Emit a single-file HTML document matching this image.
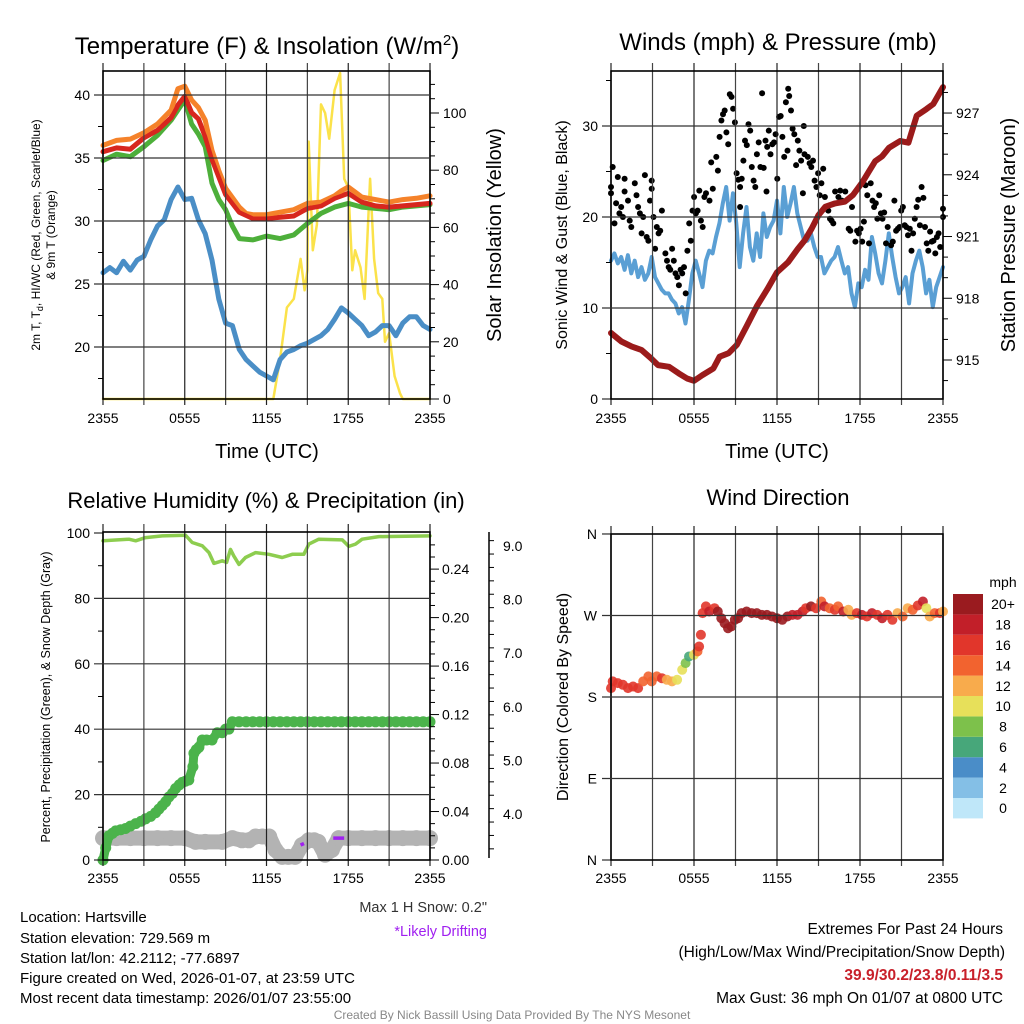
<!DOCTYPE html>
<html><head><meta charset="utf-8"><title>Mesonet Station Chart</title>
<style>
html,body{margin:0;padding:0;background:#fff;}
svg{display:block;font-family:"Liberation Sans",Arial,sans-serif;}
</style></head>
<body>
<svg id="chart" width="1024" height="1024" viewBox="0 0 1024 1024" xmlns="http://www.w3.org/2000/svg">
<rect x="0" y="0" width="1024" height="1024" fill="#fff"/>
<g id="layer-data"></g>
<g id="layer-axes"></g>
<!-- titles -->
<text x="267" y="54" font-size="24" text-anchor="middle">Temperature (F) &amp; Insolation (W/m<tspan dy="-9" font-size="15">2</tspan><tspan dy="9">)</tspan></text>
<text x="778" y="50" font-size="24" text-anchor="middle">Winds (mph) &amp; Pressure (mb)</text>
<text x="266" y="508" font-size="22" text-anchor="middle">Relative Humidity (%) &amp; Precipitation (in)</text>
<text x="778" y="505" font-size="22" text-anchor="middle">Wind Direction</text>
<text x="267" y="458" font-size="20" text-anchor="middle">Time (UTC)</text>
<text x="777" y="458" font-size="20" text-anchor="middle">Time (UTC)</text>
<text transform="translate(40,235) rotate(-90)" font-size="12" text-anchor="middle">2m T, T<tspan dy="3" font-size="9">d</tspan><tspan dy="-3">, HI/WC (Red, Green, Scarlet/Blue)</tspan></text>
<text transform="translate(55,235) rotate(-90)" font-size="12" text-anchor="middle">&amp; 9m T (Orange)</text>
<text transform="translate(501,235) rotate(-90)" font-size="20" text-anchor="middle">Solar Insolation (Yellow)</text>
<text transform="translate(567,235) rotate(-90)" font-size="16" text-anchor="middle">Sonic Wind &amp; Gust (Blue, Black)</text>
<text transform="translate(1015,235) rotate(-90)" font-size="20" text-anchor="middle">Station Pressure (Maroon)</text>
<text transform="translate(50,697) rotate(-90)" font-size="12.5" text-anchor="middle">Percent, Precipitation (Green), &amp; Snow Depth (Gray)</text>
<text transform="translate(568,697) rotate(-90)" font-size="16" text-anchor="middle">Direction (Colored By Speed)</text>
<!-- notes -->
<text x="487" y="912" font-size="14.5" fill="#333" text-anchor="end">Max 1 H Snow: 0.2"</text>
<text x="487" y="936" font-size="14.5" fill="#a020f0" text-anchor="end">*Likely Drifting</text>
<g font-size="15">
<text x="20" y="922">Location: Hartsville</text>
<text x="20" y="943">Station elevation: 729.569 m</text>
<text x="20" y="963">Station lat/lon: 42.2112; -77.6897</text>
<text x="20" y="983">Figure created on Wed, 2026-01-07, at 23:59 UTC</text>
<text x="20" y="1003">Most recent data timestamp: 2026/01/07 23:55:00</text>
</g>
<g font-size="15.5" text-anchor="end">
<text x="1003" y="934">Extremes For Past 24 Hours</text>
<text x="1005" y="957">(High/Low/Max Wind/Precipitation/Snow Depth)</text>
<text x="1003" y="980" fill="#c8202a" font-weight="bold">39.9/30.2/23.8/0.11/3.5</text>
<text x="1003" y="1003">Max Gust: 36 mph On 01/07 at 0800 UTC</text>
</g>
<text x="512" y="1019" font-size="12" fill="#888" text-anchor="middle">Created By Nick Bassill Using Data Provided By The NYS Mesonet</text>
</svg>
<script>
// ---------- DATA ----------
const xTickLabels=["2355","0555","1155","1755","2355"];
// Temperature panel
const tOrange=[0,1,2,3,4,5,5.5,6,6.5,7,7.5,8,8.5,9,10,10.5,11,12,13,14,15,16,17,17.5,18,18.5,19,20,21,22,23,24];
const vOrange=[36.0,36.4,36.5,37.0,37.7,38.8,40.5,40.7,39.6,39.0,38.0,35.6,34.0,32.6,31.1,30.6,30.5,30.5,30.7,30.9,31.4,31.5,32.0,32.4,32.7,32.3,31.9,31.7,31.5,31.7,31.8,32.0];
const tRed=[0,1,2,3,4,5,5.5,6,6.5,7,7.5,8,9,10,11,12,13,14,15,16,17,18,19,20,21,22,23,24];
const vRed=[35.5,35.8,35.7,36.6,37.2,38.2,39.2,39.9,38.6,38.1,36.7,34.9,32.1,30.7,30.2,30.2,30.3,30.4,31.0,31.2,31.8,32.2,31.5,31.2,31.1,31.2,31.3,31.4];
const tGreen=[0,1,2,3,4,5,5.5,6,6.5,7,7.5,8,8.5,9,9.5,10,11,12,13,14,15,16,17,18,19,20,21,22,23,24];
const vGreen=[34.8,35.3,35.1,35.9,36.8,38.0,38.8,39.6,37.7,36.9,35.9,33.0,31.7,30.9,29.6,28.6,28.5,28.8,28.6,28.9,29.8,30.6,31.1,31.4,31.1,31.0,30.9,31.1,31.2,31.3];
const vBlue=[25.9,26.3,25.9,26.8,26.1,26.9,27.2,28.5,29.6,30.1,31.7,32.7,31.7,31.8,30.1,29.0,26.9,23.8,21.9,21.7,19.8,19.0,18.5,18.0,17.7,17.4,19.0,19.6,19.8,20.1,20.3,20.6,20.9,21.4,22.2,23.1,22.7,22.2,21.7,20.9,21.2,21.7,21.7,20.9,21.9,22.4,22.4,21.7,21.4];
const tSolar=[0,12,12.5,13,13.5,14,14.5,14.8,15,15.1,15.4,15.7,16,16.3,16.6,17,17.4,17.7,18,18.3,18.5,18.9,19.2,19.6,19.9,20.2,20.5,20.7,21,21.4,21.8,22,24];
const vSolar=[0,0,0,14,32,35,49,38,45,90,52,61,103,100,91,108,114,77,74,45,52,46,35,77,49,37,35,20,23,8,2,0,0];
const tempTicks=[20,25,30,35,40];
const solarTicks=[0,20,40,60,80,100];
// Wind panel
const vWind=[15.2,16.0,14.9,15.6,14.2,15.8,13.8,15.2,13.4,14.5,13.1,13.8,15.6,13.4,12.7,12.0,11.6,11.6,10.9,10.5,9.4,10.1,8.3,10.9,13.8,15.2,13.8,12.3,15.2,16.3,16.0,17.8,19.3,21.5,23.3,19.6,22.6,19.3,14.5,18.2,21.1,16.7,15.2,18.2,15.6,20.4,17.8,18.9,19.6,21.8,18.2,23.3,20.0,21.5,23.3,20.4,18.9,17.4,17.4,18.2,16.7,15.6,15.6,13.8,14.5,15.2,15.6,16.7,15.2,13.8,14.5,11.6,10.1,12.7,12.3,14.2,13.1,17.8,16.0,13.8,12.7,15.2,18.2,15.6,13.4,11.6,12.3,13.4,10.5,13.8,15.2,16.3,14.5,11.6,13.1,10.1,12.3,13.4,14.5];
const tGust=[0,0.12,0,0.37,0.49,0.25,0.61,0.74,0.86,0.98,0.98,1.23,1.35,1.47,1.72,1.84,1.96,2.09,2.21,2.33,2.45,2.58,2.70,2.82,2.94,2.94,3.07,3.19,3.31,3.44,3.56,3.68,3.93,4.05,4.17,4.29,4.42,4.54,4.66,4.79,4.91,5.03,5.15,5.28,5.40,5.52,5.65,5.77,5.89,6.01,6.14,6.26,6.38,6.50,6.63,6.75,6.87,7.12,7.24,7.36,7.61,7.73,7.85,7.98,8.10,8.22,8.34,8.47,8.59,8.71,8.83,8.96,9.08,9.20,9.33,9.33,9.45,9.57,9.69,9.82,9.94,10.06,10.18,10.31,10.43,10.55,10.68,10.80,10.92,11.04,11.17,11.24,11.29,11.41,11.53,11.66,11.78,11.90,12.02,12.15,12.27,12.39,12.52,12.64,12.76,12.81,12.88,13.01,13.13,13.25,13.38,13.50,13.62,13.74,13.87,13.94,13.99,14.23,14.36,14.48,14.60,14.72,14.85,14.97,15.09,15.21,15.34,15.46,15.71,15.83,15.95,16.07,16.20,16.44,16.57,16.69,16.94,17.18,17.30,17.42,17.67,17.79,17.91,18.04,18.16,18.28,18.40,18.53,18.65,18.77,18.90,19.02,19.14,19.26,19.39,19.51,19.63,19.75,19.88,20.00,20.25,20.37,20.49,20.61,20.74,20.86,20.98,21.10,21.23,21.35,21.47,21.60,21.72,21.84,21.96,22.09,22.21,22.33,22.45,22.58,22.70,22.82,22.94,23.07,23.19,23.31,23.44,23.56,23.68,23.80,24.00,24.00];
const vGust=[23.3,25.5,22.6,21.5,24.4,19.3,20.4,21.1,20.0,24.2,22.8,21.8,19.6,18.9,23.7,22.4,21.1,20.4,18.2,20.0,24.6,17.8,17.4,21.8,23.1,24.0,20.0,16.5,18.9,18.2,18.5,20.7,16.0,15.2,14.5,14.2,16.5,15.2,13.8,13.4,12.5,14.2,13.8,14.5,11.6,16.3,19.3,17.4,20.7,22.2,20.4,20.7,22.9,19.6,18.9,22.2,22.6,21.8,26.0,23.1,26.6,25.1,28.8,30.6,31.3,31.7,29.3,28.0,33.5,33.2,31.9,30.4,24.8,24.1,23.3,21.1,24.2,26.2,28.4,27.9,30.2,29.5,25.5,24.0,23.3,26.9,28.2,25.5,33.6,25.4,28.4,22.8,27.7,29.5,26.9,28.0,28.2,29.1,24.2,31.0,31.1,28.8,26.6,32.6,27.3,34.1,33.3,31.7,29.7,29.1,25.7,28.4,27.3,26.2,22.6,30.0,26.9,26.6,25.9,25.5,26.2,24.0,23.3,24.8,22.4,23.7,25.3,22.2,20.7,19.8,19.6,19.3,22.8,22.2,22.9,21.8,22.8,18.7,18.5,21.1,17.3,18.5,18.2,18.7,17.3,19.5,23.5,22.4,17.1,23.7,21.8,21.1,21.5,19.8,22.4,20.4,19.8,20.5,17.1,18.9,16.9,17.3,21.8,18.5,18.7,18.9,20.7,21.1,19.1,18.9,18.0,18.7,16.3,18.2,19.8,21.1,21.9,19.1,23.3,22.1,18.9,17.1,16.3,18.4,17.3,17.4,16.0,17.8,18.2,16.7,20.0,20.9];
const tPres=[0,0.75,1.5,2.2,2.9,3.4,4.2,4.9,5.5,6,6.6,7.4,7.85,8.5,9.1,9.8,10.55,11.3,12,12.8,13.5,14,14.5,15,15.5,16.2,16.9,17.5,18.2,18.65,19.1,19.6,20.1,20.9,21.5,22.1,22.8,23.3,24];
const vPres=[916.31,915.90,915.65,915.49,915.08,914.75,914.67,914.35,914.10,913.99,914.26,914.59,915.16,915.33,915.74,916.64,917.62,918.44,919.26,919.75,920.40,920.81,921.38,922.04,922.45,922.61,922.69,923.02,923.67,924.17,924.66,924.90,925.31,925.64,925.56,926.87,927.19,927.44,928.26];
const windTicks=[0,10,20,30];
const presTicks=[915,918,921,924,927];
// Humidity panel
const tRH=[0,1.9,2.4,3.13,4.35,6.06,6.55,7.29,7.78,8.14,8.75,9.07,9.36,9.6,9.98,10.46,11.2,12.18,13.15,13.89,14.74,15.11,15.84,17.56,18.04,18.53,19.02,20.24,24];
const vRH=[97.6,98.1,97.6,98.6,99.1,99.3,97.1,96.1,94.0,90.7,91.5,91.0,95.0,93.0,90.4,92.5,94.0,93.5,92.5,93.5,93.5,96.6,98.1,97.9,95.9,96.6,98.1,98.9,99.1];
const tPrecip=[0,0.2,0.44,0.7,0.93,1.3,1.66,2.0,2.4,2.8,3.13,3.5,3.86,4.1,4.35,4.6,4.84,5.1,5.33,5.6,5.82,6.05,6.3,6.6,6.67,6.85,7.04,7.29,7.6,8.0,8.39,8.75,9.0,9.24,9.49,9.98,10.5,11,11.5,12,12.5,13,13.5,14,14.5,15,15.5,16,16.5,17,17.5,18,18.5,19,19.5,20,20.5,21,21.5,22,22.5,23,23.5,24];
const vPrecip=[0,0.01,0.02,0.022,0.024,0.025,0.026,0.028,0.03,0.032,0.034,0.036,0.039,0.042,0.045,0.048,0.052,0.055,0.059,0.062,0.064,0.065,0.066,0.077,0.088,0.091,0.093,0.099,0.099,0.099,0.105,0.105,0.108,0.108,0.114,0.114,0.114,0.114,0.114,0.114,0.114,0.114,0.114,0.114,0.114,0.114,0.114,0.114,0.114,0.114,0.114,0.114,0.114,0.114,0.114,0.114,0.114,0.114,0.114,0.114,0.114,0.114,0.114,0.114];
const tSnow=[0,1,2,3,4,5,6,6.8,7.5,8.75,9.5,10.2,10.7,11.2,11.7,12.2,12.66,13.15,13.6,14.1,14.6,15.1,15.5,15.8,16.3,16.8,17.3,18,19,20,21,22,23,24];
const vSnow=[3.55,3.55,3.55,3.55,3.55,3.55,3.55,3.48,3.48,3.48,3.55,3.51,3.51,3.58,3.58,3.58,3.33,3.2,3.2,3.2,3.42,3.51,3.51,3.48,3.24,3.33,3.55,3.55,3.55,3.55,3.55,3.55,3.55,3.55];
const tDrift=[14.5,14.75,16.9,17.7];
const vDrift=[3.42,3.45,3.55,3.55];
const rhTicks=[0,20,40,60,80,100];
const precipTicks=[0,0.04,0.08,0.12,0.16,0.20,0.24];
const snowTicks=[4,5,6,7,8,9];
// Direction panel
const tDir=[0,0.12,0.49,0.86,1.23,1.59,1.96,2.33,2.7,2.94,3.31,3.68,4.04,4.41,4.78,5.15,5.39,5.64,6.0,6.25,6.37,6.5,6.62,6.86,7.1,7.48,7.72,7.97,8.21,8.46,8.7,8.95,9.19,9.44,9.8,10.17,10.54,10.9,11.27,11.64,12.0,12.38,12.75,13.11,13.48,13.85,14.09,14.46,14.83,15.2,15.44,15.81,16.18,16.42,16.79,17.16,17.4,17.77,18.14,18.5,18.87,19.24,19.6,19.98,20.34,20.71,21.08,21.45,21.81,22.18,22.55,22.8,23.04,23.4,23.77,24];
const vDir=[189.8,197.2,195.3,193.5,189.8,191.6,189.8,197.2,202.7,197.2,202.7,200.8,199,197.2,199,210,217.4,224.7,226.6,230.3,235.8,248.7,272.6,280,274.4,278,274.4,267,261.5,256,257.9,265.2,267,272.6,274.4,272.6,272.6,270.7,270.7,268.9,267,265.2,268.9,270.7,270.7,274.4,278,280,278,285.5,280,278,276.3,280,274.4,276.3,270.7,272.6,270.7,268.9,272.6,270.7,267,270.7,265.2,272.6,268.9,278,276.3,281,285.5,278,268.9,272.6,272.6,274.4];
const vDirSpeed=[17,16,17,16,17,17,16,14,14,15,14,16,13,12,11,10,9,7,10,15,16,16,17,16,18,17,21,21,21,21,21,21,20,21,20,20,21,21,21,21,21,20,21,19,18,19,17,20,16,15,18,14,17,15,18,13,12,16,18,17,19,16,18,17,16,12,15,13,14,16,18,10,12,14,16,12];
const dirTicks=["N","E","S","W","N"];
const cbLabels=["0","2","4","6","8","10","12","14","16","18","20+"];
const cbColors=["#bfe7f9","#84bfe6","#4a8dc8","#47a77a","#7dc14b","#e7e05a","#f8ab4c","#f2632f","#e1362b","#c21f29","#9a1b1f"];

// ---------- HELPERS ----------
const NS="http://www.w3.org/2000/svg";
const dataL=document.getElementById("layer-data");
const axesL=document.getElementById("layer-axes");
function add(parent,tag,attrs,name){
  const el=document.createElementNS(NS,tag);
  for(const k in attrs) el.setAttribute(k,attrs[k]);
  
  
  parent.appendChild(el);return el;
}
function txt(parent,x,y,s,size,anchor,name,fill){
  const el=add(parent,"text",{x:x,y:y,"font-size":size,"text-anchor":anchor||"middle",fill:fill||"#000"},name);
  el.textContent=s;return el;
}
function line(parent,x1,y1,x2,y2,stroke,w,name){
  return add(parent,"line",{x1:x1,y1:y1,x2:x2,y2:y2,stroke:stroke,"stroke-width":w},name);
}
function poly(parent,ts,vs,fx,fy,color,w,name){
  const pts=ts.map((t,i)=>fx(t).toFixed(1)+","+fy(vs[i]).toFixed(1)).join(" ");
  return add(parent,"polyline",{points:pts,fill:"none",stroke:color,"stroke-width":w,"stroke-linejoin":"round","stroke-linecap":"round"},name);
}
function xAxisFn(P){return h=>P.x0+h*(P.x1-P.x0)/24;}
function frame(P,pre,labelY){
  const X=xAxisFn(P);
  for(let h=0;h<=24;h+=3){
    line(axesL,X(h),P.y0-8,X(h),P.y1+6,h%6===0?"#222":"#444",1.2,pre+"-x-grid");
  }
  if(labelY){xTickLabels.forEach((s,i)=>{txt(axesL,X(i*6),labelY,s,14,"middle",pre+"-x-tick-label");});}
  add(axesL,"rect",{x:P.x0,y:P.y0,width:P.x1-P.x0,height:P.y1-P.y0,fill:"none",stroke:"#000","stroke-width":1.6},pre+"-plot-frame");
}
function labelsOnly(P,labelY,pre){const X=xAxisFn(P);xTickLabels.forEach((s,i)=>{txt(axesL,X(i*6),labelY,s,14,"middle",pre+"-x-tick-label");});}

// ---------- PANEL 1 ----------
const P1={x0:103,x1:430,y0:71,y1:399};
const x1f=xAxisFn(P1);
const yTemp=T=>95+(40-T)*12.6;
const ySol=S=>399-S*2.86;
frame(P1,"temperature",423);
tempTicks.forEach(v=>{line(axesL,P1.x0-9,yTemp(v),P1.x1,yTemp(v),"#333",1.2,"temperature-y-grid");txt(axesL,P1.x0-13,yTemp(v)+5,String(v),14,"end","temperature-y-tick-label");});
for(let v=17.5;v<=42;v+=5){line(axesL,P1.x0-5,yTemp(v),P1.x0,yTemp(v),"#000",1,"temperature-minor-tick");}
for(let s=0;s<=110;s+=5){const major=s%20===0;line(axesL,P1.x1,ySol(s),P1.x1+(major?9:5),ySol(s),"#000",1,"solar-tick");}
solarTicks.forEach(v=>{txt(axesL,P1.x1+13,ySol(v)+5,String(v),14,"start","solar-y-tick-label");});
poly(dataL,tSolar,vSolar,x1f,ySol,"#fbe24a",2.5,"solar-line");
poly(dataL,tBlueTimes(),vBlue,x1f,yTemp,"#4a8ec6",5,"dewpoint-line");
function tBlueTimes(){return vBlue.map((v,i)=>i*0.5);}
poly(dataL,tGreen,vGreen,x1f,yTemp,"#4daf3a",5,"green-temperature-line");
poly(dataL,tRed,vRed,x1f,yTemp,"#d7261e",5,"red-temperature-line");
poly(dataL,tOrange,vOrange,x1f,yTemp,"#f5822a",5,"orange-temperature-line");
poly(dataL,tRed,vRed,x1f,yTemp,"#d7261e",4,"red-temperature-line-overlay");

// ---------- PANEL 2 ----------
const P2={x0:611,x1:943,y0:71,y1:399};
const x2f=xAxisFn(P2);
const yWind=v=>399-v*9.1;
const yPres=p=>360-(p-915)*20.58;
frame(P2,"winds",423);
windTicks.forEach(v=>{if(v>0)line(axesL,P2.x0-9,yWind(v),P2.x1,yWind(v),"#333",1.2,"winds-y-grid");else line(axesL,P2.x0-9,yWind(v),P2.x0,yWind(v),"#000",1,"winds-y-tick");txt(axesL,P2.x0-13,yWind(v)+5,String(v),14,"end","winds-y-tick-label");});
for(let v=5;v<=35;v+=10){line(axesL,P2.x0-5,yWind(v),P2.x0,yWind(v),"#000",1,"winds-minor-tick");}
for(let p=914;p<=928;p+=1){const major=(p-915)%3===0;line(axesL,P2.x1,yPres(p),P2.x1+(major?9:5),yPres(p),"#000",1,"pressure-tick");}
presTicks.forEach(v=>{txt(axesL,P2.x1+13,yPres(v)+5,String(v),14,"start","pressure-y-tick-label");});
poly(dataL,vWind.map((v,i)=>i*24/(vWind.length-1)),vWind,x2f,yWind,"#5a9fd4",4,"sonic-wind-line");
tGust.forEach((t,i)=>{
  const c=add(dataL,"circle",{cx:x2f(t).toFixed(1),cy:yWind(vGust[i]).toFixed(1),r:3,fill:"#000"},"gust-point");
});
poly(dataL,tPres,vPres,x2f,yPres,"#9b1b1b",6,"pressure-line");

// ---------- PANEL 3 ----------
const P3={x0:103,x1:430,y0:532,y1:860};
const x3f=xAxisFn(P3);
const yRH=r=>860-r*3.27;
const yPrec=p=>860-p*1212;
const ySnow=s=>814-(s-4)*53.6;
frame(P3,"humidity",883);
rhTicks.forEach(v=>{if(v>0&&v<100)line(axesL,P3.x0-9,yRH(v),P3.x1,yRH(v),"#333",1.2,"humidity-y-grid");else line(axesL,P3.x0-9,yRH(v),P3.x0,yRH(v),"#000",1,"humidity-y-tick");txt(axesL,P3.x0-13,yRH(v)+5,String(v),14,"end","humidity-y-tick-label");});
for(let v=10;v<=90;v+=20){line(axesL,P3.x0-5,yRH(v),P3.x0,yRH(v),"#000",1,"humidity-minor-tick");}
for(let k=0;k<=26;k++){const p=k*0.01;const major=k%4===0;line(axesL,P3.x1,yPrec(p),P3.x1+(major?9:5),yPrec(p),"#000",1,"precip-tick");}
precipTicks.forEach(v=>{txt(axesL,P3.x1+12,yPrec(v)+5,v.toFixed(2),14,"start","precip-y-tick-label");});
line(axesL,489,532,489,858,"#000",1.5,"snow-axis-line");
for(let k=0;k<=24;k++){const s=3.1+k*0.25;const y=ySnow(s);if(y<532||y>858)continue;const major=Math.abs(s-Math.round(s))<0.01;line(axesL,489,y,489+(major?9:5),y,"#000",1,"snow-tick");}
snowTicks.forEach(v=>{txt(axesL,503,ySnow(v)+5,v.toFixed(1),14,"start","snow-y-tick-label");});
poly(dataL,tSnow,vSnow,x3f,ySnow,"#b3b3b3",15,"snow-depth-band");
tSnow.forEach((t,i)=>{
  const c=add(dataL,"circle",{cx:x3f(t).toFixed(1),cy:ySnow(vSnow[i]).toFixed(1),r:8,fill:"#b3b3b3"},"snow-depth-point");
});
for(let i=0;i<tDrift.length;i+=2){
  const l=line(dataL,x3f(tDrift[i]),ySnow(vDrift[i]),x3f(tDrift[i+1]),ySnow(vDrift[i+1]),"#a020f0",3.5,"drifting-mark");
}
poly(dataL,tPrecip,vPrecip,x3f,yPrec,"#4bb34b",9,"precipitation-band");
tPrecip.forEach((t,i)=>{
  const c=add(dataL,"circle",{cx:x3f(t).toFixed(1),cy:yPrec(vPrecip[i]).toFixed(1),r:5.5,fill:"#4bb34b"},"precipitation-point");
});
poly(dataL,tRH,vRH,x3f,yRH,"#8dcd4f",3.5,"humidity-line");

// ---------- PANEL 4 ----------
const P4={x0:611,x1:943,y0:534,y1:860};
const x4f=xAxisFn(P4);
const yDir=d=>860-d*0.9056;
frame(P4,"direction",883);
dirTicks.forEach((s,i)=>{const d=i*90;const y=yDir(d);if(i>0&&i<4)line(axesL,P4.x0-9,y,P4.x1,y,"#333",1.2,"direction-y-grid");else line(axesL,P4.x0-9,y,P4.x0,y,"#000",1,"direction-y-tick");txt(axesL,P4.x0-14,y+5,s,14,"end","direction-y-tick-label");});
tDir.forEach((t,i)=>{
  const bin=Math.min(10,Math.floor(vDirSpeed[i]/2));
  const c=add(dataL,"circle",{cx:x4f(t).toFixed(1),cy:yDir(vDir[i]).toFixed(1),r:5,fill:cbColors[bin],"fill-opacity":0.9},"direction-point");
});
// colorbar
const cbTop=594,cbH=20.4;
txt(axesL,1003,587,"mph",14,"middle","colorbar-title");
cbLabels.forEach((s,i)=>{
  const y=cbTop+(10-i)*cbH;
  const r=add(axesL,"rect",{x:953,y:y,width:30,height:cbH,fill:cbColors[i]},"colorbar-box");
  txt(axesL,1003,y+cbH/2+5,s,14,"middle","colorbar-label");
});
</script>
</body></html>
